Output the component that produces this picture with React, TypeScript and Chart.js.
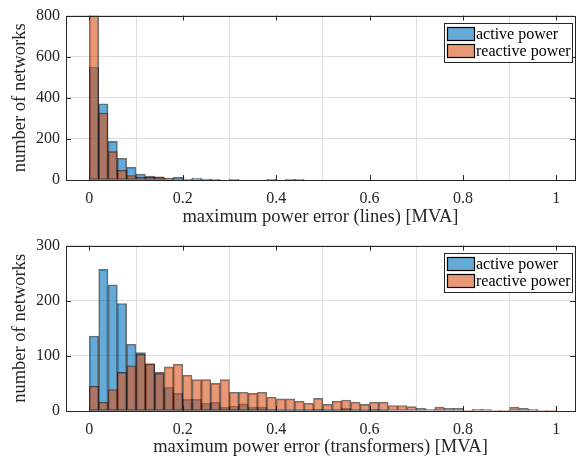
import React, { useEffect, useRef } from "react";
import { Chart, registerables } from "chart.js";

Chart.register(...registerables);

// bin centers (bin width 0.02 MVA)
const binCenters = [
  0.01, 0.03, 0.05, 0.07, 0.09, 0.11, 0.13, 0.15, 0.17, 0.19,
  0.21, 0.23, 0.25, 0.27, 0.29, 0.31, 0.33, 0.35, 0.37, 0.39,
  0.41, 0.43, 0.45, 0.47, 0.49, 0.51, 0.53, 0.55, 0.57, 0.59,
  0.61, 0.63, 0.65, 0.67, 0.69, 0.71, 0.73, 0.75, 0.77, 0.79,
  0.81, 0.83, 0.85, 0.87, 0.89, 0.91, 0.93, 0.95, 0.97, 0.99,
];

const seriesLabels = ["active power", "reactive power"];

// lines
const linesActive = [
  550, 371, 188, 106, 63, 29, 19, 14, 9, 14,
  4, 9, 4, 3, 0, 3, 0, 0, 0, 1,
  0, 2, 2, 0, 0, 0, 0, 0, 0, 0,
  0, 0, 0, 0, 0, 0, 0, 0, 0, 0,
  0, 0, 0, 0, 0, 0, 0, 0, 0, 0,
];
const linesReactive = [
  800, 326, 138, 48, 22, 13, 13, 16, 9, 6,
  4, 3, 4, 3, 0, 3, 0, 0, 0, 1,
  0, 1, 1, 0, 0, 0, 0, 0, 0, 0,
  0, 0, 0, 0, 0, 0, 0, 0, 0, 0,
  0, 0, 0, 0, 0, 0, 0, 0, 0, 0,
];

// transformers
const trafoActive = [
  136, 257, 229, 195, 121, 106, 85, 70, 43, 32,
  21, 21, 14, 16, 7, 9, 13, 7, 7, 3,
  2, 2, 2, 2, 3, 2, 2, 5, 2, 1,
  3, 1, 0, 0, 0, 0, 0, 0, 0, 0,
  0, 0, 0, 0, 0, 0, 0, 0, 0, 0,
];
const trafoReactive = [
  45, 16, 39, 70, 82, 103, 86, 68, 80, 85,
  65, 57, 57, 50, 57, 34, 34, 32, 34, 25,
  22, 22, 18, 14, 23, 12, 18, 20, 16, 12,
  16, 16, 10, 10, 8, 5, 3, 7, 5, 5,
  1, 3, 3, 1, 1, 7, 5, 3, 1, 1,
];

const xTicks = [0, 0.2, 0.4, 0.6, 0.8, 1];
const linesYTicks = [0, 200, 400, 600, 800];
const trafoYTicks = [0, 100, 200, 300];

const FONT = "'Liberation Serif', 'Times New Roman', serif";
const TEXT = "#262626";
const BLUE = "rgba(0,114,189,0.6)";
const ORANGE = "rgba(217,83,25,0.6)";
const EDGE = "rgba(0,0,0,0.55)";

const framePlugin = {
  id: "matlabFrame",
  afterDraw(chart: any) {
    const { ctx, chartArea: a, scales } = chart;
    ctx.save();
    ctx.strokeStyle = TEXT;
    ctx.lineWidth = 1;
    const tl = 5;
    ctx.beginPath();
    scales.x.ticks.forEach((t: any) => {
      const px = Math.round(scales.x.getPixelForValue(t.value)) + 0.5;
      ctx.moveTo(px, a.bottom);
      ctx.lineTo(px, a.bottom - tl);
      ctx.moveTo(px, a.top);
      ctx.lineTo(px, a.top + tl);
    });
    scales.y.ticks.forEach((t: any) => {
      const py = Math.round(scales.y.getPixelForValue(t.value)) + 0.5;
      ctx.moveTo(a.left, py);
      ctx.lineTo(a.left + tl, py);
      ctx.moveTo(a.right, py);
      ctx.lineTo(a.right - tl, py);
    });
    ctx.stroke();
    ctx.strokeRect(
      Math.round(a.left) + 0.5,
      Math.round(a.top) + 0.5,
      Math.round(a.right) - Math.round(a.left),
      Math.round(a.bottom) - Math.round(a.top)
    );

    // legend
    const lx = a.right - 131;
    const ly = a.top + 7;
    const lw = 128;
    const lh = 39;
    ctx.fillStyle = "#ffffff";
    ctx.fillRect(lx, ly, lw, lh);
    ctx.strokeStyle = TEXT;
    ctx.strokeRect(Math.round(lx) + 0.5, Math.round(ly) + 0.5, lw, lh);
    const colors = [BLUE, ORANGE];
    ctx.font = `16px ${FONT}`;
    ctx.textBaseline = "middle";
    ctx.textAlign = "left";
    seriesLabels.forEach((lab, i) => {
      const sy = Math.round(ly + 4 + i * 17.5);
      const sx = Math.round(lx + 2.5);
      ctx.fillStyle = "#ffffff";
      ctx.fillRect(sx, sy, 27, 13);
      ctx.fillStyle = colors[i];
      ctx.fillRect(sx, sy, 27, 13);
      ctx.strokeStyle = "#000";
      ctx.lineWidth = 1.2;
      ctx.strokeRect(sx + 0.5, sy + 0.5, 27, 13);
      ctx.fillStyle = "#000";
      ctx.fillText(lab, sx + 29, sy + 7.5);
    });
    ctx.restore();
  },
};

function makeConfig(
  active: number[],
  reactive: number[],
  yTicks: number[],
  xTitle: string,
  xHeight: number
): any {
  return {
    type: "bar",
    data: {
      datasets: [
        {
          label: seriesLabels[1],
          data: binCenters.map((x, i) => ({ x, y: reactive[i] })),
          backgroundColor: ORANGE,
          borderColor: EDGE,
          borderWidth: 1,
          borderSkipped: false,
          order: 0,
        },
        {
          label: seriesLabels[0],
          data: binCenters.map((x, i) => ({ x, y: active[i] })),
          backgroundColor: BLUE,
          borderColor: EDGE,
          borderWidth: 1,
          borderSkipped: false,
          order: 1,
        },
      ],
    },
    options: {
      animation: false,
      responsive: false,
      devicePixelRatio: 1,
      grouped: false,
      barPercentage: 1,
      categoryPercentage: 1,
      layout: { padding: { top: 14, right: 7, left: 0, bottom: 0 } },
      plugins: { legend: { display: false }, tooltip: { enabled: false } },
      scales: {
        x: {
          type: "linear",
          min: -0.05,
          max: 1.04,
          offset: false,
          afterBuildTicks: (s: any) => {
            s.ticks = xTicks.map((v) => ({ value: v }));
          },
          afterFit: (s: any) => {
            s.height = xHeight;
          },
          grid: { color: "#dfdfdf", drawTicks: false, lineWidth: 1 },
          border: { display: false },
          ticks: {
            padding: 9,
            color: TEXT,
            font: { family: FONT, size: 16 },
            maxRotation: 0,
            autoSkip: false,
            callback: (v: any) => String(v),
          },
          title: {
            display: true,
            text: xTitle,
            color: TEXT,
            font: { family: FONT, size: 18.5 },
            padding: { top: 0, bottom: 2 },
          },
        },
        y: {
          min: yTicks[0],
          max: yTicks[yTicks.length - 1],
          afterBuildTicks: (s: any) => {
            s.ticks = yTicks.map((v) => ({ value: v }));
          },
          afterFit: (s: any) => {
            s.width = 66;
          },
          grid: { color: "#dfdfdf", drawTicks: false, lineWidth: 1 },
          border: { display: false },
          ticks: {
            padding: 6,
            color: TEXT,
            font: { family: FONT, size: 16 },
            callback: (v: any) => String(v),
          },
          title: {
            display: true,
            text: "number of networks",
            color: TEXT,
            font: { family: FONT, size: 18.5 },
            padding: { top: 9.5, bottom: 0 },
          },
        },
      },
    },
    plugins: [framePlugin],
  };
}

function Hist(props: {
  active: number[];
  reactive: number[];
  yTicks: number[];
  xTitle: string;
  xHeight: number;
}) {
  const ref = useRef<HTMLCanvasElement | null>(null);
  useEffect(() => {
    if (!ref.current) return;
    const chart = new Chart(
      ref.current,
      makeConfig(props.active, props.reactive, props.yTicks, props.xTitle, props.xHeight)
    );
    return () => chart.destroy();
  }, []);
  return (
    <canvas
      ref={ref}
      width={582}
      height={230}
      style={{ display: "block", width: 582, height: 230 }}
    />
  );
}

export default function App() {
  return (
    <div
      style={{
        position: "fixed",
        left: 0,
        top: 0,
        width: 582,
        height: 460,
        background: "#ffffff",
      }}
    >
      <Hist
        active={linesActive}
        reactive={linesReactive}
        yTicks={linesYTicks}
        xTitle="maximum power error (lines) [MVA]"
        xHeight={50}
      />
      <Hist
        active={trafoActive}
        reactive={trafoReactive}
        yTicks={trafoYTicks}
        xTitle="maximum power error (transformers) [MVA]"
        xHeight={49}
      />
    </div>
  );
}
